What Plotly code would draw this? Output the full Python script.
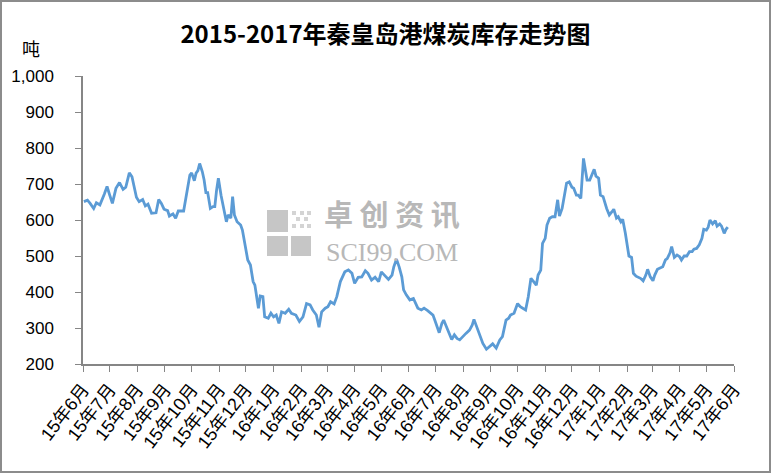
import plotly.graph_objects as go

dates = [
"2015-06-02","2015-06-06","2015-06-09","2015-06-13","2015-06-16","2015-06-20","2015-06-25","2015-06-28",
"2015-07-01","2015-07-04","2015-07-08","2015-07-12","2015-07-16","2015-07-19","2015-07-21","2015-07-23",
"2015-07-26","2015-07-28","2015-07-31","2015-08-03","2015-08-07","2015-08-10","2015-08-13","2015-08-17",
"2015-08-22","2015-08-25","2015-08-28","2015-08-31","2015-09-04","2015-09-06","2015-09-10","2015-09-13",
"2015-09-16","2015-09-22","2015-09-24","2015-09-26","2015-09-29","2015-10-01","2015-10-04","2015-10-06",
"2015-10-08","2015-10-10","2015-10-13","2015-10-15","2015-10-17","2015-10-19","2015-10-22","2015-10-25",
"2015-10-27","2015-10-29","2015-10-31","2015-11-03","2015-11-06","2015-11-09","2015-11-11","2015-11-14",
"2015-11-16","2015-11-18","2015-11-21","2015-11-25","2015-11-27","2015-11-30","2015-12-03","2015-12-06",
"2015-12-09","2015-12-11","2015-12-13","2015-12-15","2015-12-17","2015-12-20","2015-12-22","2015-12-26",
"2015-12-29","2016-01-01","2016-01-04","2016-01-07","2016-01-10","2016-01-14","2016-01-18","2016-01-21",
"2016-01-26","2016-01-30","2016-02-03","2016-02-07","2016-02-11","2016-02-14","2016-02-18","2016-02-21",
"2016-02-24","2016-02-28","2016-03-02","2016-03-05","2016-03-09","2016-03-12","2016-03-16","2016-03-19",
"2016-03-21","2016-03-25","2016-03-29","2016-04-01","2016-04-05","2016-04-09","2016-04-13","2016-04-16",
"2016-04-20","2016-04-24","2016-04-28","2016-05-01","2016-05-05","2016-05-09","2016-05-13","2016-05-15",
"2016-05-18","2016-05-21","2016-05-24","2016-05-26","2016-05-29","2016-06-02","2016-06-06","2016-06-09",
"2016-06-11","2016-06-15","2016-06-18","2016-06-22","2016-06-25","2016-06-28","2016-06-30","2016-07-03",
"2016-07-05","2016-07-08","2016-07-10","2016-07-13","2016-07-16","2016-07-19","2016-07-22","2016-07-25",
"2016-07-28","2016-07-31","2016-08-04","2016-08-08","2016-08-11","2016-08-13","2016-08-16","2016-08-20",
"2016-08-23","2016-08-27","2016-08-30","2016-09-03","2016-09-07","2016-09-11","2016-09-14","2016-09-18",
"2016-09-21","2016-09-23","2016-09-27","2016-10-01","2016-10-04","2016-10-07","2016-10-10","2016-10-13",
"2016-10-16","2016-10-19","2016-10-22","2016-10-24","2016-10-27","2016-10-29","2016-11-01","2016-11-03",
"2016-11-06","2016-11-09","2016-11-12","2016-11-15","2016-11-17","2016-11-20","2016-11-22","2016-11-25",
"2016-11-28","2016-12-01","2016-12-03","2016-12-06","2016-12-08","2016-12-11","2016-12-14","2016-12-16",
"2016-12-18","2016-12-21","2016-12-23","2016-12-26","2016-12-28","2016-12-31","2017-01-02","2017-01-05",
"2017-01-09","2017-01-12","2017-01-15","2017-01-17","2017-01-20","2017-01-22","2017-01-25","2017-01-27",
"2017-01-30","2017-02-01","2017-02-03","2017-02-06","2017-02-08","2017-02-11","2017-02-14","2017-02-16",
"2017-02-19","2017-02-22","2017-02-24","2017-02-27","2017-03-02","2017-03-04","2017-03-07","2017-03-10",
"2017-03-13","2017-03-16","2017-03-18","2017-03-21","2017-03-23","2017-03-26","2017-03-29","2017-04-01",
"2017-04-03","2017-04-06","2017-04-09","2017-04-12","2017-04-15","2017-04-17","2017-04-20","2017-04-23",
"2017-04-26","2017-04-28","2017-05-01","2017-05-03","2017-05-05","2017-05-08","2017-05-11","2017-05-13",
"2017-05-16","2017-05-18","2017-05-21","2017-05-23","2017-05-25",
]

stock = [
651,655,646,632,648,642,672,693,
669,646,688,704,685,691,711,731,
720,693,663,651,657,639,644,619,
620,657,646,630,626,611,617,605,
625,625,656,688,725,731,709,730,
737,757,734,711,676,676,632,637,
637,683,716,669,632,595,614,605,
665,614,595,586,572,526,489,475,
429,419,387,355,389,387,331,327,
341,331,336,313,345,341,352,341,
336,318,331,368,364,350,336,302,
345,355,359,373,367,387,429,447,
456,461,452,424,441,442,459,452,
433,441,429,456,444,435,447,470,
491,470,442,406,392,378,382,368,
355,350,355,348,343,336,322,302,
287,313,322,304,285,268,281,271,
267,276,285,294,308,324,304,281,
257,241,248,256,244,267,276,322,
327,336,341,368,359,355,350,387,
438,429,419,447,461,535,549,586,
605,609,609,656,611,632,657,702,
706,691,688,669,669,660,771,734,
711,711,725,741,722,716,669,665,
632,614,623,630,605,609,595,602,
563,526,500,496,452,444,441,438,
431,447,463,442,431,447,463,466,
470,489,493,508,526,496,503,498,
489,500,500,512,512,519,521,531,
549,574,572,580,600,589,598,583,
589,583,563,574,580,
]

tick_dates = [
"2015-06-01","2015-07-01","2015-08-01","2015-09-01","2015-10-01","2015-11-01","2015-12-01",
"2016-01-01","2016-02-01","2016-03-01","2016-04-01","2016-05-01","2016-06-01","2016-07-01",
"2016-08-01","2016-09-01","2016-10-01","2016-11-01","2016-12-01","2017-01-01","2017-02-01",
"2017-03-01","2017-04-01","2017-05-01","2017-06-01",
]
tick_labels = [
"15年6月","15年7月","15年8月","15年9月","15年10月","15年11月","15年12月",
"16年1月","16年2月","16年3月","16年4月","16年5月","16年6月","16年7月",
"16年8月","16年9月","16年10月","16年11月","16年12月","17年1月","17年2月",
"17年3月","17年4月","17年5月","17年6月",
]

FONT = "Liberation Sans, Arial, Noto Sans CJK SC, sans-serif"
CJK = "Noto Sans CJK SC, sans-serif"
AX = "#868686"

fig = go.Figure()
fig.add_trace(go.Scatter(
    x=dates, y=stock, mode="lines",
    line=dict(color="#5B9BD5", width=2.8),
    showlegend=False, hoverinfo="x+y",
))

# watermark (logo-like)
W = 651.0
H = 288.0
def px(x):
    return (x - 83) / W
def py(y):
    return (364 - y) / H

wm = "#c6c6c6"
for (x0, y0, x1, y1) in [(267, 210, 288, 232), (267, 236, 288, 256), (291, 236, 311, 256)]:
    fig.add_shape(type="rect", xref="paper", yref="paper",
                  x0=px(x0), x1=px(x1), y0=py(y1), y1=py(y0),
                  fillcolor=wm, line=dict(width=0), layer="below")
for (cx, cy) in [(294, 213), (302, 213), (309, 213), (298, 219), (306, 219), (294, 226), (302, 226), (309, 226)]:
    fig.add_shape(type="rect", xref="paper", yref="paper",
                  x0=px(cx - 2), x1=px(cx + 2), y0=py(cy + 2), y1=py(cy - 2),
                  fillcolor="#d4d4d4", line=dict(width=0), layer="below")

fig.add_annotation(xref="paper", yref="paper", x=px(392), y=py(236),
                   text="<b>卓 创 资 讯</b>", showarrow=False,
                   font=dict(family=CJK, size=29, color="#b8b8b8"),
                   xanchor="center", yanchor="bottom")
fig.add_annotation(xref="paper", yref="paper", x=px(392), y=py(236),
                   text="SCI99.COM", showarrow=False,
                   font=dict(family="Liberation Serif, DejaVu Serif, serif", size=26, color="#b8b8b8"),
                   xanchor="center", yanchor="top")

# unit label
fig.add_annotation(xref="paper", yref="paper", x=px(31), y=py(48),
                   text="吨", showarrow=False,
                   font=dict(family=CJK, size=18, color="#000000"),
                   xanchor="center", yanchor="middle")

# outer frame
fig.add_shape(type="rect", xref="paper", yref="paper",
              x0=px(1), x1=px(770), y0=py(472), y1=py(1),
              line=dict(color="#8c8c8c", width=2), fillcolor="rgba(0,0,0,0)")

fig.update_layout(
    width=771, height=473,
    margin=dict(l=83, r=37, t=76, b=109, autoexpand=False),
    paper_bgcolor="white", plot_bgcolor="white",
    title=dict(text="<b>2015-2017年秦皇岛港煤炭库存走势图</b>",
               x=0.5, xref="container", xanchor="center",
               y=1 - 35 / 473, yref="container", yanchor="middle",
               font=dict(family=CJK, size=24, color="#000000")),
    xaxis=dict(
        type="date",
        range=["2015-06-01", "2017-06-01"],
        tickmode="array", tickvals=tick_dates, ticktext=tick_labels,
        tickangle=-52,
        tickfont=dict(family=FONT, size=18, color="#000000"),
        showgrid=False, zeroline=False, automargin=False,
        showline=True, linecolor=AX, linewidth=1.5,
        ticks="outside", ticklen=6, tickcolor=AX, tickwidth=1,
    ),
    yaxis=dict(
        range=[200, 1000], dtick=100, tick0=200,
        tickformat=",",
        tickfont=dict(family=FONT, size=17, color="#000000"),
        showgrid=False, zeroline=False, automargin=False,
        showline=True, linecolor=AX, linewidth=1.5,
        ticks="outside", ticklen=6, tickcolor=AX, tickwidth=1,
        ticklabelstandoff=18,
    ),
)

fig.write_html(
    "out.html",
    config={"displayModeBar": False},
    post_script="document.body.style.margin='0px';document.body.style.overflow='hidden';",
)
